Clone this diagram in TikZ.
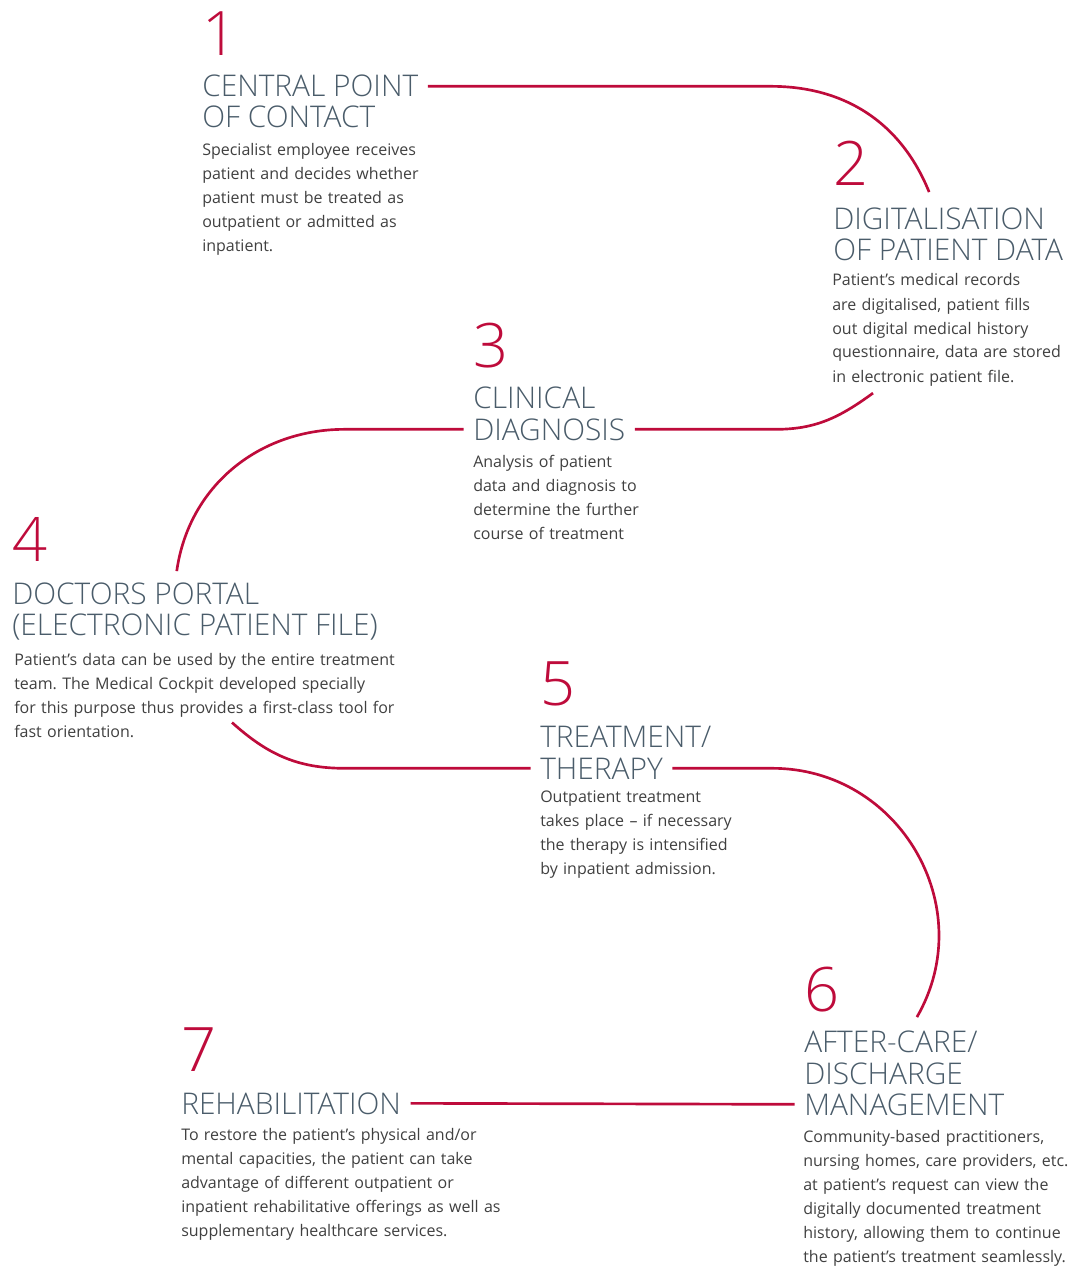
\documentclass[tikz,border=0pt]{standalone}
\usepackage{fontspec}
\setmainfont{Open Sans}
\IfFontExistsTF{Open Sans Light}
  {\newfontfamily\thinfont{Open Sans Light}}
  {\newfontfamily\thinfont{Open Sans}}
\usepackage{xcolor}
\usepackage{tikz}
\frenchspacing

\definecolor{crimson}{HTML}{BE0B3B}
\definecolor{slate}{HTML}{4A5C6A}
\definecolor{copytext}{HTML}{404040}

\begin{document}
\begin{tikzpicture}[x=0.75pt,y=0.75pt,
  num/.style={anchor=base west,inner sep=0pt,text=crimson,font=\thinfont\fontsize{46}{46}\selectfont},
  head/.style={anchor=base west,inner xsep=7pt,inner ysep=0pt,xshift=-7pt,text=slate,font=\thinfont\fontsize{22.4}{24}\selectfont},
  blurb/.style={anchor=base west,inner sep=0pt,text width=300pt,align=left,text=copytext,font=\fontsize{12}{18}\selectfont},
  link/.style={crimson,line width=2pt}]
  \useasboundingbox (0,0) rectangle (1070,-1266);

  % 1
  \node[num] (n1) at (202,-56) {1};
  \node[head] (t1a) at (202,-97) {CENTRAL POINT};
  \node[head] (t1b) at (202,-128) {OF CONTACT};
  \node[blurb] (b1) at (202,-156) {Specialist employee receives\\patient and decides whether\\patient must be treated as\\outpatient or admitted as\\inpatient.};

  % 2
  \node[num] (n2) at (833,-186) {2};
  \node[head] (t2a) at (833,-229) {DIGITALISATION};
  \node[head] (t2b) at (833,-261) {OF PATIENT DATA};
  \node[blurb] (b2) at (832,-286) {Patient’s medical records\\are digitalised, patient fills\\out digital medical history\\questionnaire, data are stored\\in electronic patient file.};

  % 3
  \node[num] (n3) at (473,-367) {3};
  \node[head] (t3a) at (473,-408) {CLINICAL};
  \node[head] (t3b) at (473,-440) {DIAGNOSIS};
  \node[blurb] (b3) at (473,-467) {Analysis of patient\\data and diagnosis to\\determine the further\\course of treatment};

  % 4
  \node[num] (n4) at (12,-561) {4};
  \node[head] (t4a) at (12,-604) {DOCTORS PORTAL};
  \node[head] (t4b) at (12,-635) {(ELECTRONIC PATIENT FILE)};
  \node[blurb] (b4) at (14,-665) {Patient’s data can be used by the entire treatment\\team. The Medical Cockpit developed specially\\for this purpose thus provides a first-class tool for\\fast orientation.};

  % 5
  \node[num] (n5) at (540,-705) {5};
  \node[head] (t5a) at (540,-747) {TREATMENT/};
  \node[head] (t5b) at (540,-779) {THERAPY};
  \node[blurb] (b5) at (540,-802) {Outpatient treatment\\takes place – if necessary\\the therapy is intensified\\by inpatient admission.};

  % 6
  \node[num] (n6) at (804,-1011) {6};
  \node[head] (t6a) at (804,-1052) {AFTER-CARE/};
  \node[head] (t6b) at (804,-1084) {DISCHARGE};
  \node[head] (t6c) at (804,-1115) {MANAGEMENT};
  \node[blurb] (b6) at (803,-1142) {Community-based practitioners,\\nursing homes, care providers, etc.\\at patient’s request can view the\\digitally documented treatment\\history, allowing them to continue\\the patient’s treatment seamlessly.};

  % 7
  \node[num] (n7) at (181,-1071) {7};
  \node[head] (t7) at (181,-1114) {REHABILITATION};
  \node[blurb] (b7) at (181,-1140) {To restore the patient’s physical and/or\\mental capacities, the patient can take\\advantage of different outpatient or\\inpatient rehabilitative offerings as well as\\supplementary healthcare services.};

  % the red path through the steps
  \draw[link] (t1a.east) -- ++(343,0) to[out=0,in=112] ([shift={(-10,15)}]t2a.north);
  \draw[link] (t3b.east) -- ++(141,0) to[out=0,in=-144] ([shift={(41,-7)}]b2.south west);
  \draw[link] (t3b.west) -- ++(-119,0) to[out=180,in=82] ([shift={(41,11)}]t4a.north);
  \draw[link] (t5b.west) -- ++(-186,0) to[out=180,in=-42] ([shift={(218,15)}]b4.south west);
  \draw[link] (t5b.east) -- ++(100,0) to[out=0,in=60,looseness=1.13] ([shift={(26,13)}]t6a.north);
  \draw[link] (t6c.west) -- (t7.east);
\end{tikzpicture}
\end{document}
